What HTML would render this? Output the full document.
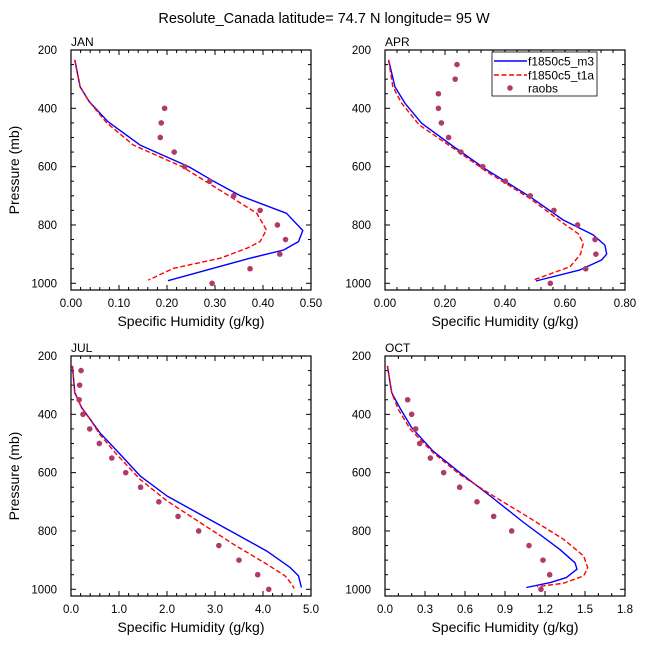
<!DOCTYPE html>
<html><head><meta charset="utf-8"><style>
body{margin:0;background:#fff;}
svg text{font-family:"Liberation Sans",Arial,sans-serif;fill:#000;}
</style></head><body>
<svg id="chart" width="648" height="649" viewBox="0 0 648 649" xmlns="http://www.w3.org/2000/svg">
<text x="324" y="23" font-size="14.5" text-anchor="middle">Resolute_Canada  latitude= 74.7 N longitude= 95 W</text>
</svg>
<script>
const janM3Q=[0.008,0.019,0.038,0.077,0.144,0.245,0.297,0.353,0.449,0.483,0.474,0.443,0.373,0.202];
const janM3P=[234,326,377,446,526,600,650,700,760,819,857,886,914,991];
const janT1Q=[0.008,0.019,0.038,0.074,0.13,0.231,0.28,0.332,0.387,0.407,0.394,0.366,0.311,0.213,0.161];
const janT1P=[234,326,377,449,526,600,650,703,760,817,857,880,914,949,989];
const janObQ=[0.195,0.188,0.186,0.215,0.237,0.289,0.339,0.394,0.43,0.447,0.435,0.373,0.294];
const janObP=[400,450,500,550,600,650,700,750,800,850,900,950,1000];

const aprM3Q=[0.012,0.033,0.067,0.122,0.228,0.339,0.483,0.594,0.694,0.733,0.739,0.722,0.65,0.503];
const aprM3P=[234,326,383,451,531,611,703,783,834,869,900,920,954,992];
const aprT1Q=[0.012,0.026,0.056,0.114,0.228,0.339,0.483,0.594,0.644,0.661,0.652,0.617,0.494];
const aprT1P=[234,326,383,457,537,617,709,794,830,863,900,943,989];
const aprObQ=[0.24,0.234,0.178,0.178,0.188,0.212,0.253,0.326,0.401,0.484,0.563,0.642,0.70,0.703,0.669,0.551];
const aprObP=[250,300,350,400,450,500,550,600,650,700,750,800,850,900,950,1000];

const julM3Q=[0.03,0.08,0.22,0.40,0.6,0.99,1.44,2.0,2.69,3.39,4.08,4.57,4.74,4.8];
const julM3P=[234,326,377,417,463,531,611,680,743,806,869,926,954,994];
const julT1Q=[0.03,0.08,0.22,0.40,0.6,0.95,1.44,2.0,2.69,3.39,4.08,4.46,4.6,4.65];
const julT1P=[234,326,377,417,469,537,623,697,771,846,914,954,983,997];
const julObQ=[0.21,0.18,0.17,0.25,0.39,0.59,0.85,1.14,1.45,1.83,2.23,2.66,3.08,3.50,3.89,4.12];
const julObP=[250,300,350,400,450,500,550,600,650,700,750,800,850,900,950,1000];

const octM3Q=[0.018,0.05,0.11,0.2,0.36,0.56,0.79,1.04,1.31,1.425,1.44,1.36,1.24,1.06];
const octM3P=[234,326,377,446,526,600,680,771,863,909,931,960,977,994];
const octT1Q=[0.018,0.05,0.1,0.19,0.36,0.56,0.79,1.04,1.34,1.49,1.52,1.49,1.34,1.14];
const octT1P=[234,326,383,451,531,606,674,743,829,886,926,954,979,991];
const octObQ=[0.17,0.2,0.23,0.26,0.34,0.44,0.56,0.69,0.815,0.95,1.08,1.185,1.235,1.17];
const octObP=[350,400,450,500,550,600,650,700,750,800,850,900,950,1000];

const janTicks=["0.00","0.10","0.20","0.30","0.40","0.50"];
const aprTicks=["0.00","0.20","0.40","0.60","0.80"];
const julTicks=["0.0","1.0","2.0","3.0","4.0","5.0"];
const octTicks=["0.0","0.3","0.6","0.9","1.2","1.5","1.8"];
const pTicks=[200,400,600,800,1000];

const NS="http://www.w3.org/2000/svg";
const svg=document.getElementById('chart');
function mk(tag,attrs,parent){const e=document.createElementNS(NS,tag);for(const k in attrs)e.setAttribute(k,attrs[k]);(parent||svg).appendChild(e);return e;}

function panel(name,label,x0,y0,xmax,ticks,minorPer,m3q,m3p,t1q,t1p,obq,obp,legend){
  const W=240,H=240,pTop=200,pBot=1023;
  const g=mk('g',{});
  
  
  const sx=v=>x0+v/xmax*W;
  const sy=p=>y0+(p-pTop)/(pBot-pTop)*H;
  const nMaj=ticks.length-1;
  for(let i=0;i<=nMaj*minorPer;i++){
    const v=i*xmax/(nMaj*minorPer);const x=sx(v);const maj=i%minorPer===0;const L=maj?5:3;
    mk('line',{x1:x,x2:x,y1:y0+H,y2:y0+H-L,stroke:'#000','stroke-width':1},g);
    mk('line',{x1:x,x2:x,y1:y0,y2:y0+L,stroke:'#000','stroke-width':1},g);
  }
  for(let p=200;p<=1000;p+=50){
    const y=sy(p);const maj=p%200===0;const L=maj?5:3;
    mk('line',{x1:x0,x2:x0+L,y1:y,y2:y,stroke:'#000','stroke-width':1},g);
    mk('line',{x1:x0+W,x2:x0+W-L,y1:y,y2:y,stroke:'#000','stroke-width':1},g);
  }
  ticks.forEach((t,i)=>{
    const tx=mk('text',{x:sx(i*xmax/nMaj),y:y0+H+17,'font-size':11.5,'text-anchor':'middle'},g);
    
    
    tx.textContent=t;
  });
  pTicks.forEach(p=>{
    const tx=mk('text',{x:x0-14,y:sy(p)+4,'font-size':11.5,'text-anchor':'end'},g);
    
    
    tx.textContent=p;
  });
  const xt=mk('text',{x:x0+W/2,y:y0+H+36,'font-size':14,'text-anchor':'middle'},g);
  
  
  xt.textContent='Specific Humidity (g/kg)';
  if(x0<200){
    const yt=mk('text',{x:0,y:0,'font-size':14,'text-anchor':'middle',transform:`translate(${x0-52},${y0+H/2}) rotate(-90)`},g);
    
    
    yt.textContent='Pressure (mb)';
  }
  const lb=mk('text',{x:x0,y:y0-4,'font-size':12},g);
  
  
  lb.textContent=label;
  const pts=(q,p)=>q.map((v,i)=>sx(v).toFixed(1)+','+sy(p[i]).toFixed(1)).join(' ');
  const l1=mk('polyline',{points:pts(m3q,m3p),fill:'none',stroke:'#0000ff','stroke-width':1.4,'stroke-linejoin':'round'},g);
  
  
  const l2=mk('polyline',{points:pts(t1q,t1p),fill:'none',stroke:'#ff0000','stroke-width':1.4,'stroke-dasharray':'5,2.5'},g);
  
  
  obq.forEach((v,i)=>{
    const c=mk('circle',{cx:sx(v),cy:sy(obp[i]),r:2.8,fill:'#b03a6a'},g);
    
    
  });
  mk('rect',{x:x0,y:y0,width:W,height:H,fill:'none',stroke:'#000','stroke-width':1.2},g);
  if(legend){
    const lg=mk('g',{});
    
    
    mk('rect',{x:492,y:52,width:105,height:44,fill:'#fff',stroke:'#000','stroke-width':0.8},lg);
    const rows=[['f1850c5_m3','#0000ff',null,'legend-entry-m3'],['f1850c5_t1a','#ff0000','5,2.5','legend-entry-t1a']];
    rows.forEach((r,i)=>{
      const y=61+i*14;
      const a={x1:494,x2:527,y1:y,y2:y,stroke:r[1],'stroke-width':1.4};
      if(r[2])a['stroke-dasharray']=r[2];
      mk('line',a,lg);
      const t=mk('text',{x:528,y:y+4.5,'font-size':12},lg);
      
      
      t.textContent=r[0];
    });
    mk('circle',{cx:510,cy:88,r:2.8,fill:'#b03a6a'},lg);
    const t=mk('text',{x:528,y:92.5,'font-size':12},lg);
    
    
    t.textContent='raobs';
  }
}
panel('jan','JAN',71,50,0.5,janTicks,5,janM3Q,janM3P,janT1Q,janT1P,janObQ,janObP,false);
panel('apr','APR',385,50,0.8,aprTicks,5,aprM3Q,aprM3P,aprT1Q,aprT1P,aprObQ,aprObP,true);
panel('jul','JUL',71,356,5,julTicks,5,julM3Q,julM3P,julT1Q,julT1P,julObQ,julObP,false);
panel('oct','OCT',385,356,1.8,octTicks,3,octM3Q,octM3P,octT1Q,octT1P,octObQ,octObP,false);
</script>
</body></html>
